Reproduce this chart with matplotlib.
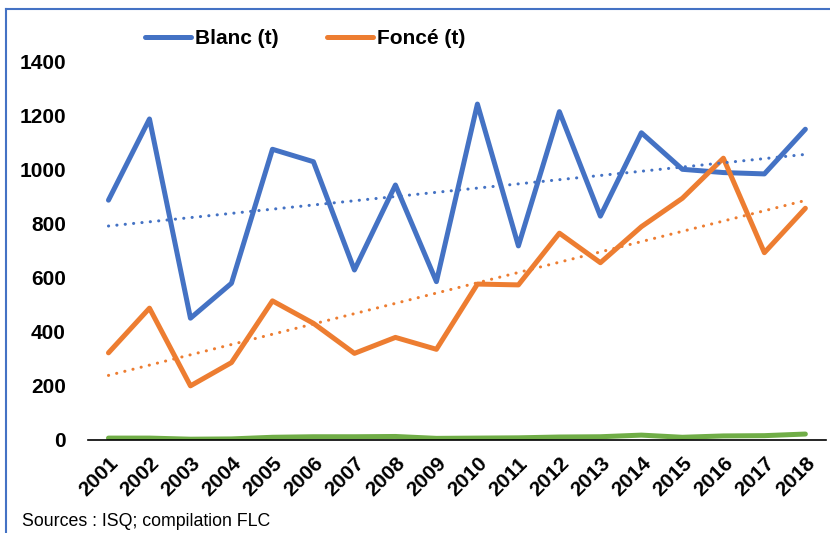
import matplotlib
matplotlib.use("Agg")
import matplotlib.pyplot as plt
from matplotlib.lines import Line2D
import numpy as np
from matplotlib import font_manager

years = [str(y) for y in range(2001, 2019)]
blanc = [886, 1186, 450, 579, 1074, 1028, 628, 942, 585, 1241, 717, 1213, 827, 1135, 1000, 988, 983, 1148]
fonce = [322, 487, 200, 286, 514, 431, 320, 379, 335, 576, 573, 764, 655, 788, 893, 1041, 692, 856]
autre = [7, 7, 3, 4, 10, 12, 12, 13, 6, 7, 8, 11, 12, 18, 10, 15, 16, 22]
yticks = [0, 200, 400, 600, 800, 1000, 1200, 1400]

names = {f.name for f in font_manager.fontManager.ttflist}
fam = "Liberation Sans Narrow" if "Liberation Sans Narrow" in names else "Liberation Sans"
plt.rcParams['font.family'] = [fam, 'DejaVu Sans']

BLUE = "#4472C4"
ORANGE = "#ED7D31"
GREEN = "#70AD47"

fig = plt.figure(figsize=(8.3, 5.33), dpi=100)
ax = fig.add_axes([0.106, 0.1745, 0.889, 0.711])

x = np.arange(len(years))
lb, = ax.plot(x, blanc, color=BLUE, lw=3.6, solid_joinstyle='round', solid_capstyle='round', label="Blanc (t)")
lf, = ax.plot(x, fonce, color=ORANGE, lw=3.6, solid_joinstyle='round', solid_capstyle='round', label="Foncé (t)")
ax.plot(x, autre, color=GREEN, lw=3.6, solid_capstyle='round')

for vals, c in ((blanc, BLUE), (fonce, ORANGE)):
    p = np.polyfit(x, vals, 1)
    ax.plot(x, np.polyval(p, x), color=c, lw=2.2, linestyle=(0, (0.05, 2.7)),
            dash_capstyle='round')

ax.set_xlim(-0.5, 17.5)
ax.set_ylim(0, 1400)
ax.set_yticks(yticks)
ax.set_yticklabels([str(v) for v in yticks], fontsize=15, fontweight='bold')
ax.set_xticks(x)
ax.set_xticklabels(years, fontsize=15, fontweight='bold', rotation=45,
                   ha='right', rotation_mode='anchor')
for s in ('top', 'right', 'left'):
    ax.spines[s].set_visible(False)
ax.spines['bottom'].set_color('black')
ax.spines['bottom'].set_linewidth(1.2)
ax.tick_params(axis='y', length=0, pad=16)
ax.tick_params(axis='x', length=0, pad=10)

lp = {'family': [fam, 'DejaVu Sans'], 'weight': 'bold', 'size': 15}
leg1 = fig.legend(handles=[lb], loc='center left', bbox_to_anchor=(0.1747, 0.927),
                  frameon=False, prop=lp, handlelength=2.2, handletextpad=0.2,
                  borderpad=0, borderaxespad=0)
leg2 = fig.legend(handles=[lf], loc='center left', bbox_to_anchor=(0.394, 0.927),
                  frameon=False, prop=lp, handlelength=2.2, handletextpad=0.2,
                  borderpad=0, borderaxespad=0)

fig.text(0.027, 0.006, "Sources : ISQ; compilation FLC", fontsize=12.8, ha='left', va='bottom')

# outer frame (top and left edges visible)
fig.add_artist(Line2D([0.0075, 0.0075], [0.0, 0.983], transform=fig.transFigure, color=BLUE, lw=1.5))
fig.add_artist(Line2D([0.0075, 1.0], [0.983, 0.983], transform=fig.transFigure, color=BLUE, lw=1.5))

fig.savefig("out.png", dpi=100)
